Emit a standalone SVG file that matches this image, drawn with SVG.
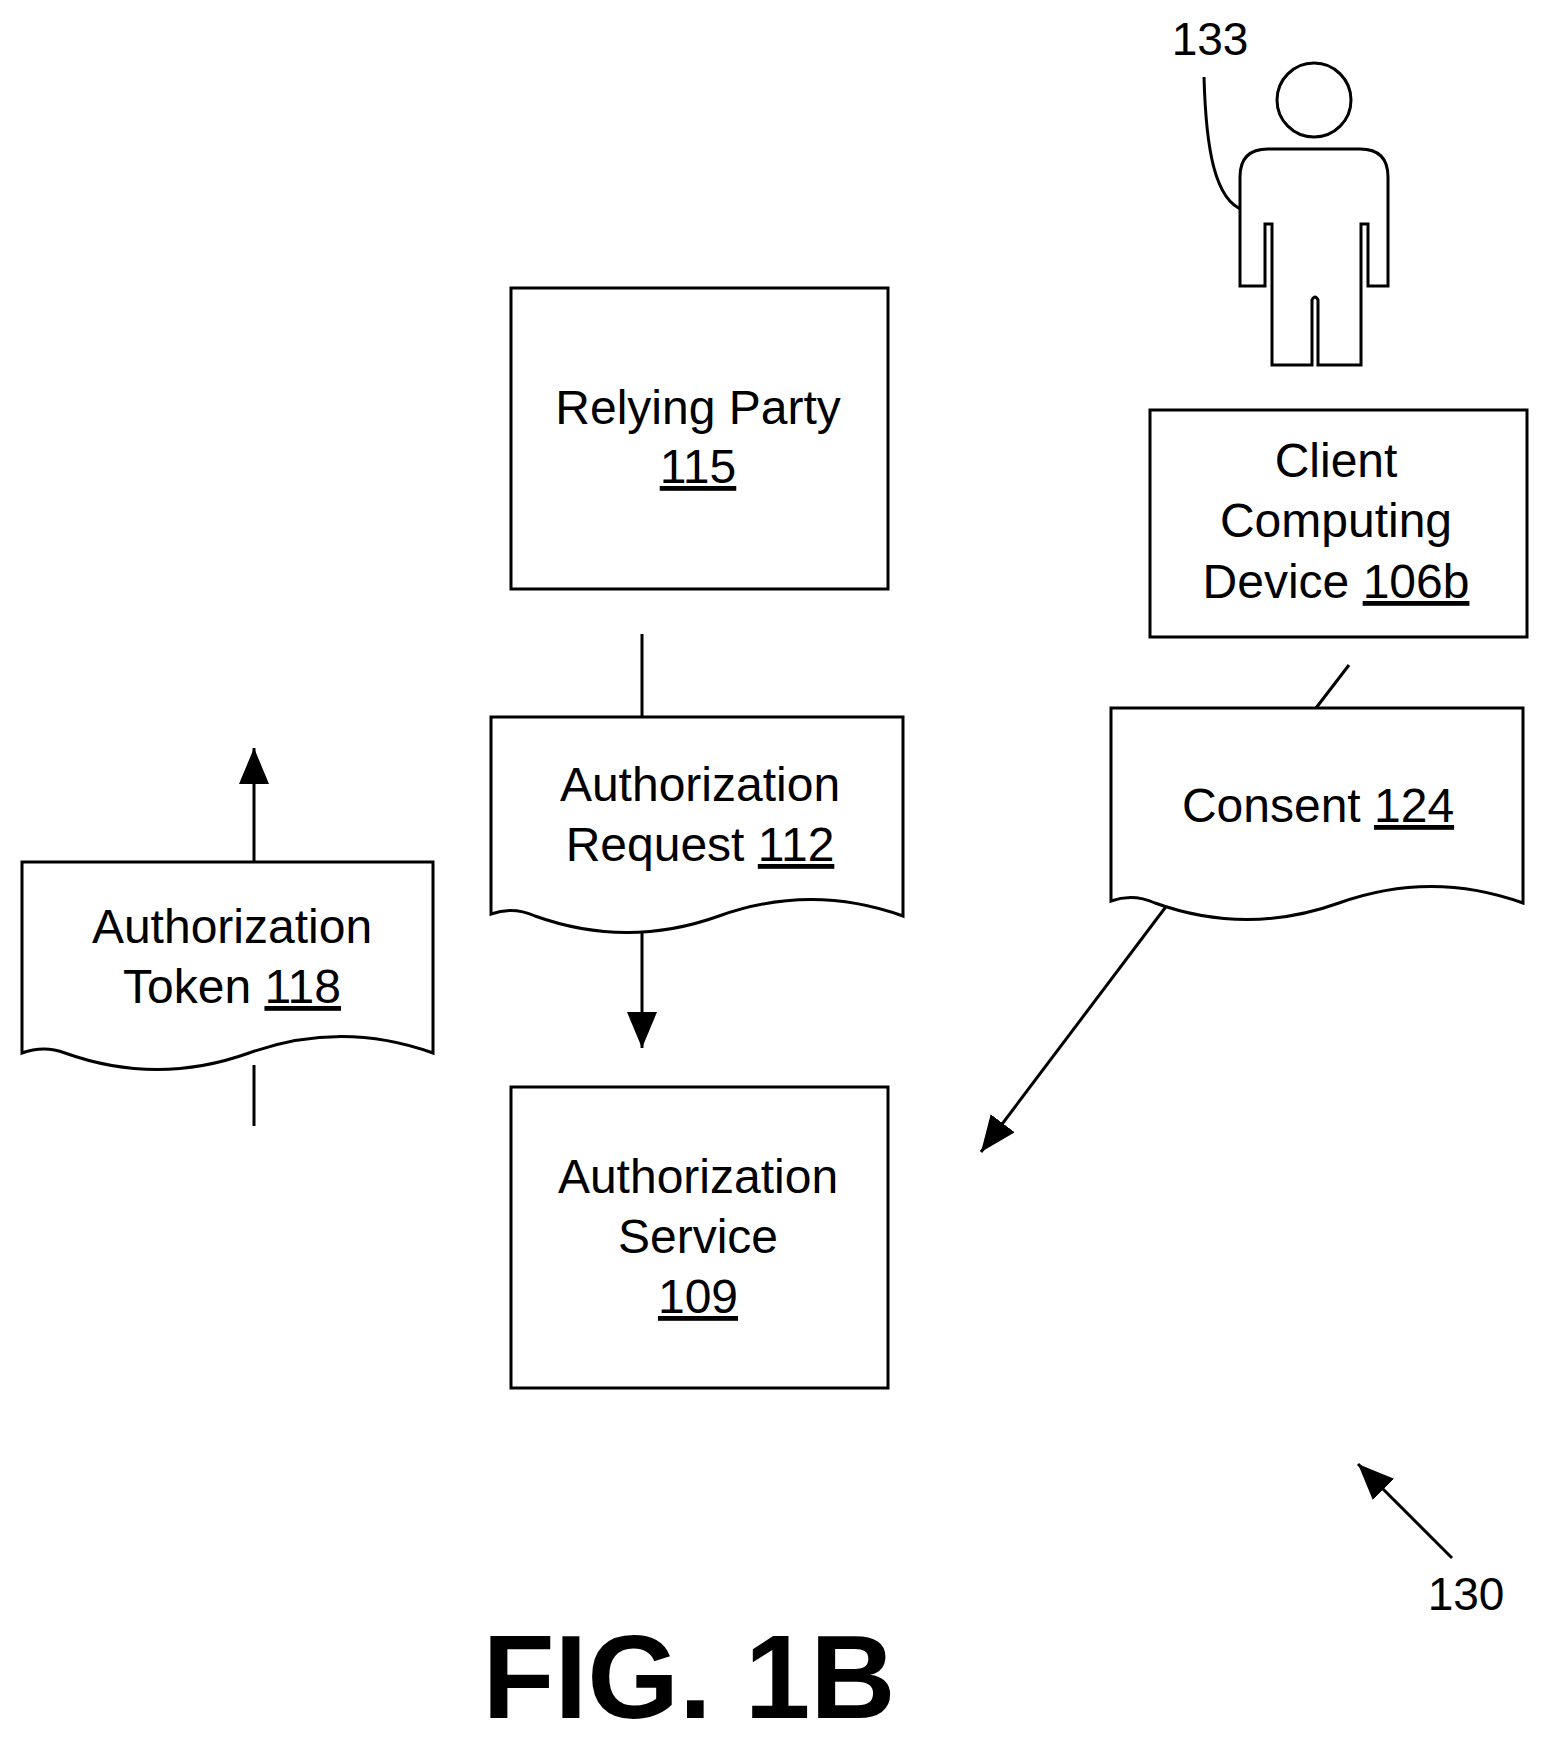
<svg xmlns="http://www.w3.org/2000/svg" width="1544" height="1743" viewBox="0 0 1544 1743">
<style>
.s{fill:#fff;stroke:#000;stroke-width:3}
.l{fill:none;stroke:#000;stroke-width:3}
text{font-family:"Liberation Sans",Arial,sans-serif;font-size:48px;fill:#000;text-anchor:middle}
.n{font-size:46px}
.u{text-decoration:underline}
</style>
<defs>
<marker id="b" viewBox="0 0 36 30" markerWidth="36" markerHeight="30" refX="36" refY="15" orient="auto" markerUnits="userSpaceOnUse">
<path d="M0,0 L36,15 L0,30 Z" fill="#000"/>
</marker>
</defs>
<rect width="1544" height="1743" fill="#fff"/>
<g id="connectors">
<line class="l" x1="642" y1="634" x2="642" y2="717"/>
<line class="l" x1="642" y1="905" x2="642" y2="1048" marker-end="url(#b)"/>
<line class="l" x1="1349" y1="665" x2="1316" y2="708"/>
<line class="l" x1="1177" y1="892" x2="981" y2="1152" marker-end="url(#b)"/>
<line class="l" x1="254" y1="862" x2="254" y2="748" marker-end="url(#b)"/>
<line class="l" x1="254" y1="1065" x2="254" y2="1126"/>
<line class="l" x1="1452" y1="1558" x2="1358" y2="1464" marker-end="url(#b)"/>
<path class="l" d="M1204,77 C1206,150 1215,200 1243,210"/>
</g>
<g id="person133">
<circle class="s" cx="1314" cy="100" r="37"/>
<path class="s" d="M1240,177 Q1240,149 1268,149 L1360,149 Q1388,149 1388,177 L1388,286 L1368,286 L1368,224 L1361,224 L1361,365 L1318,365 L1318,300 Q1315,294 1312,300 L1312,365 L1272,365 L1272,224 L1265,224 L1265,286 L1240,286 Z"/>
<text class="n" x="1210" y="55">133</text>
</g>
<g id="relying-party">
<rect class="s" x="511" y="288" width="377" height="301"/>
<text x="698" y="424">Relying Party</text>
<text x="698" y="483" class="u">115</text>
</g>
<g id="auth-request">
<path class="s" d="M491,717 H903 V916 Q811,883 719,916 Q627,949 535,916 Q513,906 491,914 Z"/>
<text x="700" y="801">Authorization</text>
<text x="700" y="861">Request <tspan class="u">112</tspan></text>
</g>
<g id="client-device">
<rect class="s" x="1150" y="410" width="377" height="227"/>
<text x="1336" y="477">Client</text>
<text x="1336" y="537">Computing</text>
<text x="1336" y="598">Device <tspan class="u">106b</tspan></text>
</g>
<g id="consent">
<path class="s" d="M1111,708 H1523 V903 Q1431,870 1339,903 Q1247,936 1155,903 Q1133,893 1111,901 Z"/>
<text x="1318" y="822">Consent <tspan class="u">124</tspan></text>
</g>
<g id="auth-token">
<path class="s" d="M22,862 H433 V1053 Q341,1020 249,1053 Q157,1086 65,1053 Q44,1045 22,1053 Z"/>
<text x="232" y="943">Authorization</text>
<text x="232" y="1003">Token <tspan class="u">118</tspan></text>
</g>
<g id="auth-service">
<rect class="s" x="511" y="1087" width="377" height="301"/>
<text x="698" y="1193">Authorization</text>
<text x="698" y="1253">Service</text>
<text x="698" y="1313" class="u">109</text>
</g>
<text class="n" x="1466" y="1610">130</text>
<text x="689" y="1718" style="font-size:118px;font-weight:bold">FIG. 1B</text>
</svg>
